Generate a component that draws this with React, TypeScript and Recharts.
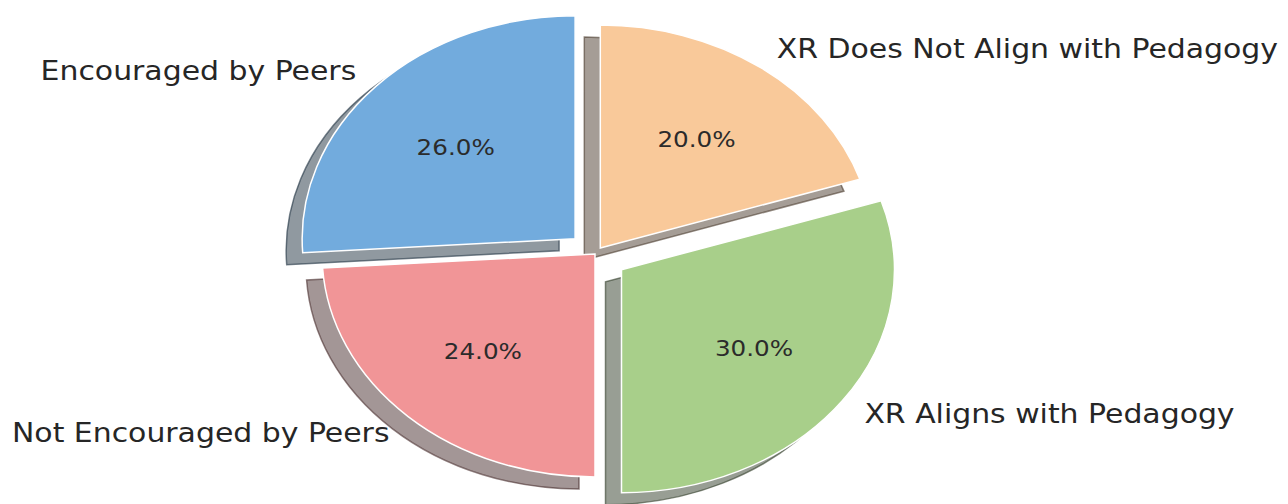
import { PieChart, Pie } from 'recharts';

const categories = ['Encouraged by Peers', 'Not Encouraged by Peers', 'XR Aligns with Pedagogy', 'XR Does Not Align with Pedagogy'];
const shares = [26, 24, 30, 20];
const sliceColors = ['#72abdd', '#f19597', '#a8cf8a', '#f9c99a'];
const explode = [0.1, 0, 0.12, 0.033];

const data = categories.map((name, i) => ({ name, value: shares[i], color: sliceColors[i], explode: explode[i] }));

const RY = 223;
const SX = 1.224; // the figure is stretched sideways
const SHADOW_DX = -16;
const SHADOW_DY = 12;
const FONT = '"DejaVu Sans", sans-serif';

const pt = (cx: number, cy: number, r: number, deg: number) => {
  const a = (deg * Math.PI) / 180;
  return [cx + r * SX * Math.cos(a), cy - r * Math.sin(a)];
};

const center = (p: any) => {
  const e = p.payload?.explode ?? p.explode ?? 0;
  const mid = p.midAngle ?? (p.startAngle + p.endAngle) / 2;
  return pt(p.cx, p.cy, p.outerRadius * e, mid);
};

const wedgePath = (x: number, y: number, r: number, a0: number, a1: number) => {
  const lo = Math.min(a0, a1);
  const hi = Math.max(a0, a1);
  const [x0, y0] = pt(x, y, r, lo);
  const [x1, y1] = pt(x, y, r, hi);
  return `M${x},${y} L${x0},${y0} A${r * SX},${r} 0 ${hi - lo > 180 ? 1 : 0} 0 ${x1},${y1} Z`;
};

const shadeOf = (hex: string) => {
  const n = parseInt(hex.slice(1), 16);
  const c = [(n >> 16) & 255, (n >> 8) & 255, n & 255].map((v) => Math.round(v * 0.3));
  return `rgb(${c.join(',')})`;
};

const Wedge = (p: any) => {
  const [x, y] = center(p);
  return <path d={wedgePath(x, y, p.outerRadius, p.startAngle, p.endAngle)} fill={p.payload?.color ?? p.fill} stroke="#fff" strokeWidth={1.5} />;
};

const ShadowWedge = (p: any) => {
  const [x, y] = center(p);
  const col = shadeOf(p.payload?.color ?? p.fill);
  return (
    <path d={wedgePath(x + SHADOW_DX, y + SHADOW_DY, p.outerRadius, p.startAngle, p.endAngle)} fill={col} fillOpacity={0.5} stroke={col} strokeOpacity={0.6} strokeWidth={1.5} />
  );
};

const renderLabel = (p: any) => {
  const [x, y] = center(p);
  const mid = p.midAngle;
  const [lx, ly] = pt(x, y, p.outerRadius * 1.1, mid);
  const [px, py] = pt(x, y, p.outerRadius * 0.6, mid);
  const right = Math.cos((mid * Math.PI) / 180) >= 0;
  return (
    <g>
      <text transform={`translate(${lx},${ly}) scale(1.15,1)`} textAnchor={right ? 'start' : 'end'} dominantBaseline="central" fontFamily={FONT} fontSize={26} fill="#262626">
        {p.payload?.name ?? p.name}
      </text>
      <text transform={`translate(${px},${py}) scale(1.12,1)`} textAnchor="middle" dominantBaseline="central" fontFamily={FONT} fontSize={22} fill="#2b2b2b">
        {(p.percent * 100).toFixed(1)}%
      </text>
    </g>
  );
};

export default function App() {
  return (
    <div style={{ position: 'absolute', left: 0, top: 0, width: 1288, height: 504, background: '#fff' }}>
      <PieChart width={1288} height={504} margin={{ top: 0, right: 0, bottom: 0, left: 0 }}>
        <Pie data={data} dataKey="value" nameKey="name" cx={595} cy={254} outerRadius={RY} startAngle={90} endAngle={450}
          shape={ShadowWedge} labelLine={false} isAnimationActive={false} />
        <Pie data={data} dataKey="value" nameKey="name" cx={595} cy={254} outerRadius={RY} startAngle={90} endAngle={450}
          shape={Wedge} label={renderLabel} labelLine={false} isAnimationActive={false} />
      </PieChart>
    </div>
  );
}
